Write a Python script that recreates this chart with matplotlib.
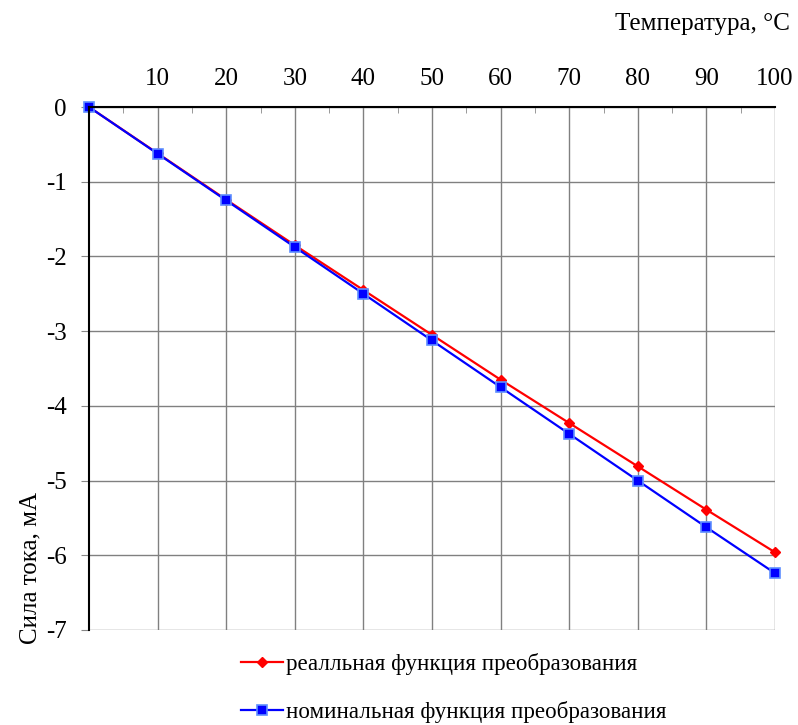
import matplotlib
matplotlib.use("Agg")
import matplotlib.pyplot as plt
from matplotlib.ticker import MultipleLocator

temperature = [0, 10, 20, 30, 40, 50, 60, 70, 80, 90, 100]
real_current = [0, -0.62, -1.24, -1.85, -2.45, -3.05, -3.65, -4.23, -4.81, -5.39, -5.96]
nominal_current = [0, -0.625, -1.25, -1.875, -2.5, -3.125, -3.75, -4.375, -5.0, -5.625, -6.24]
x_ticks = [10, 20, 30, 40, 50, 60, 70, 80, 90, 100]
y_ticks = [0, -1, -2, -3, -4, -5, -6, -7]

plt.rcParams['font.family'] = ['Liberation Serif', 'DejaVu Serif']
fs = 18

fig = plt.figure(figsize=(7.98, 7.25), dpi=100)
ax = fig.add_axes([89/798, 1-630/725, (775-89)/798, (630-107)/725])

ax.plot(temperature, real_current, color='#ff0000', lw=1.6, marker='D', ms=5,
        mfc='#ff0000', mec='#ff0000', label='реалльная функция преобразования', zorder=3)
ax.plot(temperature, nominal_current, color='#0000ff', lw=1.6, marker='s', ms=7,
        mfc='#0000ff', mec='#5f8fff', mew=1.2, label='номинальная функция преобразования', zorder=4)

ax.set_xlim(0, 100)
ax.set_ylim(-7, 0)
ax.xaxis.tick_top()
ax.set_xticks(x_ticks)
ax.set_xticklabels([str(v) for v in x_ticks], fontsize=fs)
ax.xaxis.set_minor_locator(MultipleLocator(5))
ax.tick_params(axis='x', which='major', length=0, pad=12)
ax.tick_params(axis='x', which='minor', direction='in', length=4, color='#888888', top=True, bottom=False)
ax.set_yticks(y_ticks)
ax.set_yticklabels([str(v) for v in y_ticks], fontsize=fs)
ax.tick_params(axis='y', which='major', direction='out', length=6, color='#888888', pad=10)

ax.grid(True, which='major', color='#808080', lw=1.0)
ax.set_axisbelow(True)
for s in ['right', 'bottom']:
    ax.spines[s].set_visible(False)
ax.spines['left'].set_color('black')
ax.spines['top'].set_color('black')
ax.spines['left'].set_linewidth(1.5)
ax.spines['top'].set_linewidth(1.5)
ax.spines['left'].set_zorder(5)
ax.spines['top'].set_zorder(5)
for l in ax.lines:
    l.set_clip_on(False)

fig.text(790/798, 1-24/725, 'Температура, °C', ha='right', va='center', fontsize=fs)
fig.text(30/798, 1-568/725, 'Сила тока, мА', ha='center', va='center', rotation=90, fontsize=fs)

handles, labels = ax.get_legend_handles_labels()
fig.legend(handles, labels, loc='center left', bbox_to_anchor=(232/798, 1-688/725),
           frameon=False, fontsize=16.6, handlelength=1.8, handletextpad=0.15,
           labelspacing=1.1, borderaxespad=0)

fig.savefig('out.png', dpi=100)
